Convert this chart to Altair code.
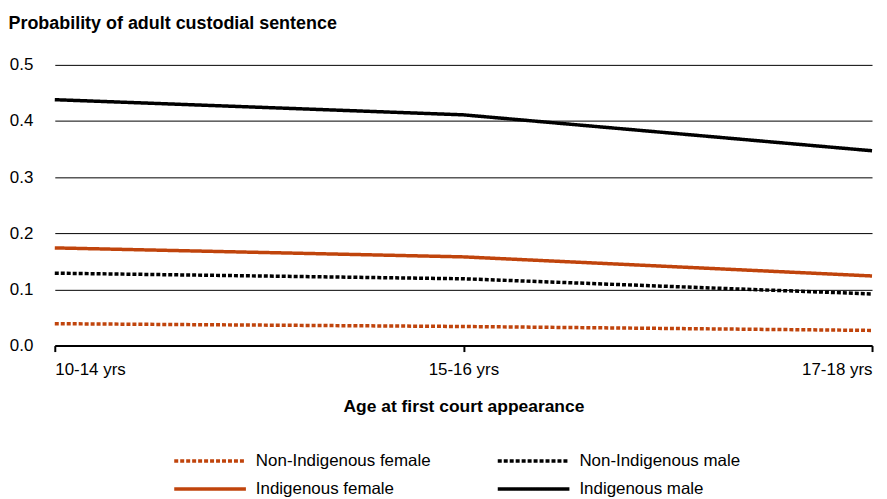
import altair as alt
import pandas as pd

ages = ["10-14 yrs", "15-16 yrs", "17-18 yrs"]
series = ["Non-Indigenous female", "Non-Indigenous male", "Indigenous female", "Indigenous male"]
non_ind_female = [0.039, 0.034, 0.027]
non_ind_male = [0.129, 0.119, 0.092]
ind_female = [0.174, 0.158, 0.124]
ind_male = [0.438, 0.411, 0.347]

colors = ["#C0440C", "#000000", "#C0440C", "#000000"]
dashes = [[4, 2], [4, 2], [1, 0], [1, 0]]
# legend slot for each series: (legendX, legendY) in plot coordinates
legend_pos = [(118, 360), (443, 360), (118, 388), (443, 388)]

rows = []
for name, vals in zip(series, [non_ind_female, non_ind_male, ind_female, ind_male]):
    for a, v in zip(ages, vals):
        rows.append({"age": a, "series": name, "value": v})
df = pd.DataFrame(rows)

FONT = "Liberation Sans"

x_enc = alt.X("age:N", sort=ages, scale=alt.Scale(type="point", padding=0),
              axis=alt.Axis(title="Age at first court appearance", labelAngle=0, labelFlush=True,
                            labelFontSize=17, labelColor="#000", labelPadding=10,
                            titleFontSize=17.5, titleFontWeight="bold", titleColor="#000", titlePadding=20,
                            domainColor="#000", domainWidth=2, tickColor="#000", tickWidth=2, tickSize=6,
                            grid=False))
y_enc = alt.Y("value:Q", scale=alt.Scale(domain=[0, 0.5], nice=False),
              axis=alt.Axis(title="Probability of adult custodial sentence", values=[0, 0.1, 0.2, 0.3, 0.4, 0.5],
                            format=".1f", labelFontSize=17, labelColor="#000", labelPadding=22,
                            tickSize=0, domain=False, gridColor="#000", gridWidth=1, gridOpacity=1,
                            titleAngle=0, titleAlign="left", titleBaseline="top", titleX=-47, titleY=-51,
                            titleFontSize=18, titleFontWeight="bold", titleColor="#000"))

layers = []
for i, name in enumerate(series):
    lx, ly = legend_pos[i]
    layer = alt.Chart(df[df["series"] == name]).mark_line(strokeWidth=3.5).encode(
        x=x_enc,
        y=y_enc,
        color=alt.Color("series:N", scale=alt.Scale(domain=[name], range=[colors[i]]),
                        legend=alt.Legend(title=None, orient="none", legendX=lx, legendY=ly,
                                          symbolType="stroke", symbolSize=5184, symbolStrokeWidth=3.5,
                                          labelFontSize=17, labelColor="#000", labelOffset=8,
                                          labelLimit=400)),
        strokeDash=alt.StrokeDash("series:N", scale=alt.Scale(domain=[name], range=[dashes[i]]),
                                  legend=None),
    )
    layers.append(layer)

chart = alt.layer(*layers).resolve_scale(
    color="independent", strokeDash="independent"
).properties(
    width=821, height=282,
    padding={"left": 0, "top": 5, "right": 0, "bottom": 5},
).configure(font=FONT).configure_view(stroke=None)

chart.save("out.html", embed_options={"renderer": "svg", "actions": False})
